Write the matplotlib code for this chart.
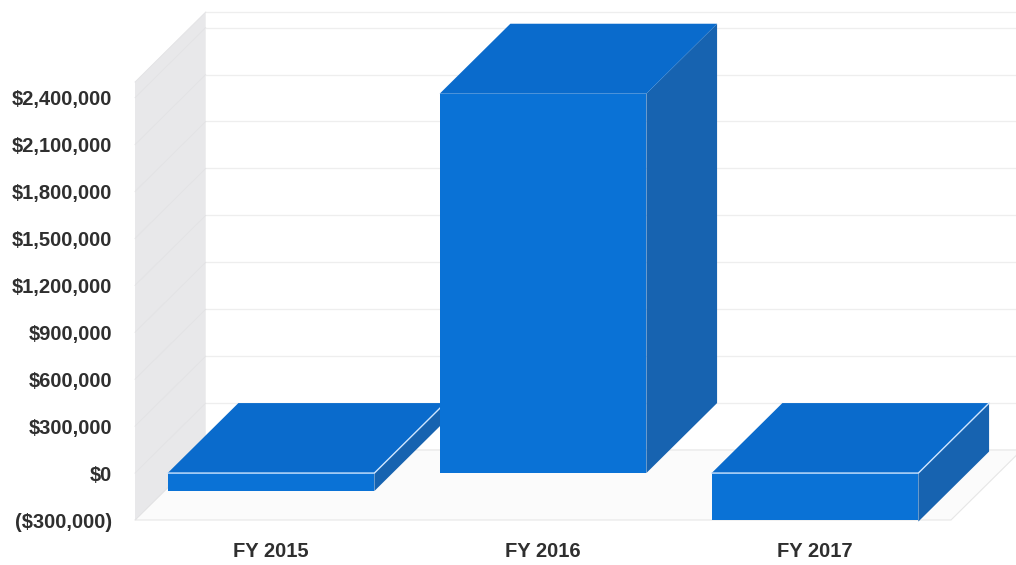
import matplotlib

matplotlib.use("Agg")
import matplotlib.pyplot as plt
from matplotlib.patches import Polygon
from matplotlib.ticker import FuncFormatter

categories = ["FY 2015", "FY 2016", "FY 2017"]
values = [-115000, 2425000, -310000]
y_ticks = [-300000, 0, 300000, 600000, 900000, 1200000, 1500000, 1800000, 2100000, 2400000]
y_min, y_max = -300000, 2500000

FRONT = "#0a72d6"
TOP = "#0a6bcc"
SIDE = "#1763b0"
EDGE_HI = "#cfe6ff"
WALL = "#e8e8ea"
GRID = "#eeeeee"

BAR_W = 0.76
DX = 0.26                               # depth offset, category units
DY = (y_max - y_min) * 70.0 / 438.0     # depth offset, value units


def money(v, _pos=None):
    if v < 0:
        return f"(${-v:,.0f})"
    return f"${v:,.0f}"


def poly(ax, pts, color, z, ec="none", lw=0):
    p = Polygon(pts, closed=True, facecolor=color, edgecolor=ec, linewidth=lw,
                zorder=z, clip_on=False)
    ax.add_patch(p)


fig = plt.figure(figsize=(10.16, 5.65), dpi=100)
ax = fig.add_axes([135 / 1016, 45 / 565, 816 / 1016, 438 / 565])
ax.set_xlim(-0.5, 2.5)
ax.set_ylim(y_min, y_max)
for s in ax.spines.values():
    s.set_visible(False)
ax.patch.set_visible(False)

x0, x1 = -0.5, 2.5

# back wall, floor, side wall
poly(ax, [(x0 + DX, y_min + DY), (x1 + DX, y_min + DY), (x1 + DX, y_max + DY), (x0 + DX, y_max + DY)],
     "white", 0.5)
poly(ax, [(x0, y_min), (x1, y_min), (x1 + DX, y_min + DY), (x0 + DX, y_min + DY)],
     "#fbfbfb", 0.6, ec="#e6e6e6", lw=0.8)
poly(ax, [(x0, y_min), (x0 + DX, y_min + DY), (x0 + DX, y_max + DY), (x0, y_max)],
     WALL, 0.7)

grid_vals = y_ticks + [y_max]
for v in grid_vals:
    ax.plot([x0 + DX, x1 + DX], [v + DY, v + DY], color=GRID, lw=0.9, zorder=0.55, clip_on=False)
    ax.plot([x0, x0 + DX], [v, v + DY], color="#e2e2e4", lw=0.6, zorder=0.75, clip_on=False)

# bars: side, top, front
for i, v in enumerate(values):
    left, right = i - BAR_W / 2, i + BAR_W / 2
    top, bot = max(v, 0), min(v, 0)
    poly(ax, [(right, bot), (right + DX, bot + DY), (right + DX, top + DY), (right, top)], SIDE, 2 + i)
    poly(ax, [(left, top), (right, top), (right + DX, top + DY), (left + DX, top + DY)], TOP, 2 + i)
    ax.bar(i, bot - top, width=BAR_W, bottom=top, color=FRONT, zorder=2.1 + i)
    if v < 0:
        ax.plot([left, right, right + DX], [top, top, top + DY], color=EDGE_HI, lw=1.0,
                zorder=2.2 + i, clip_on=False)

ax.set_yticks(y_ticks)
ax.yaxis.set_major_formatter(FuncFormatter(money))
ax.set_xticks(range(len(categories)))
ax.set_xticklabels(categories)
ax.tick_params(axis="y", length=0, pad=16.5)
ax.tick_params(axis="x", length=0, pad=15.5)
for lab in ax.get_yticklabels() + ax.get_xticklabels():
    lab.set_fontfamily("Liberation Sans")
    lab.set_fontweight("bold")
    lab.set_fontsize(14.5)
    lab.set_color("#2f2f2f")

fig.savefig("out.png", dpi=100)
